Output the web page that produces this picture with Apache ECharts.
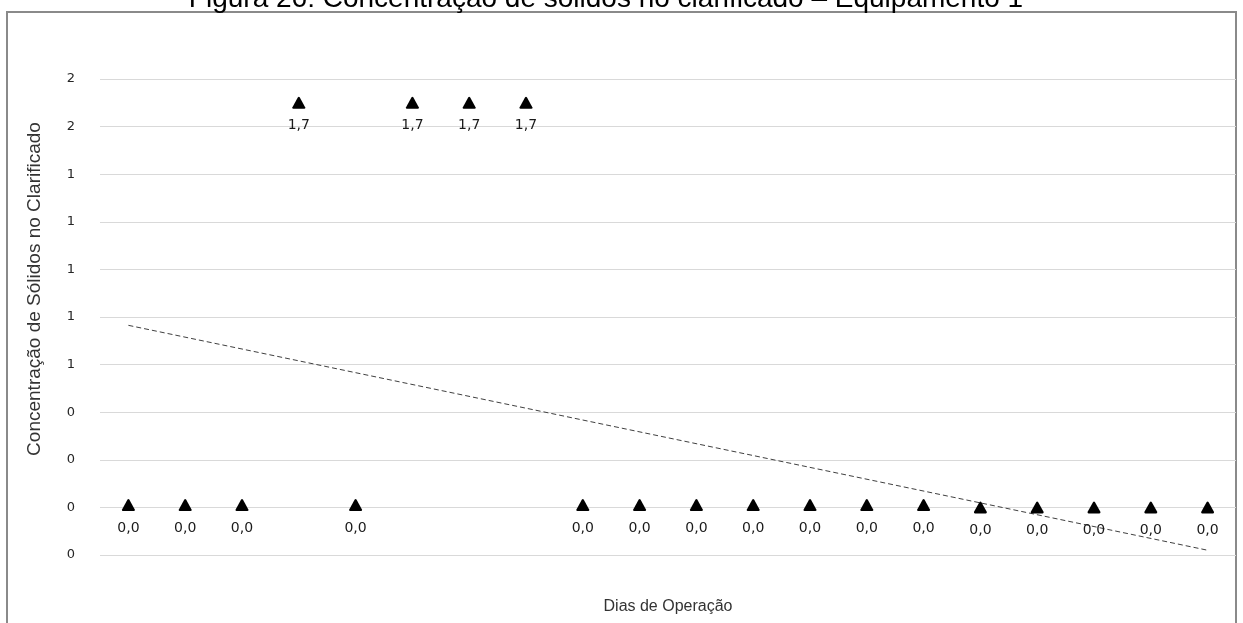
<!DOCTYPE html>
<html>
<head>
<meta charset="utf-8">
<script src="https://cdn.jsdelivr.net/npm/echarts@6/dist/echarts.min.js"></script>
<style>
  html, body { margin: 0; padding: 0; background: #ffffff; }
  #chart { width: 1243px; height: 623px; }
</style>
</head>
<body>
<div id="chart"></div>
<script>
// Operating days (category axis, labels hidden)
const days = ['1','2','3','4','5','6','7','8','9','10','11','12','13','14','15','16','17','18','19','20'];
// Solids concentration in the clarified liquid, one value per day
const concentration = [0.01, 0.01, 0.01, 1.7, 0.01, 1.7, 1.7, 1.7, 0.01, 0.01, 0.01, 0.01, 0.01, 0.01, 0.01, 0.0, 0.0, 0.0, 0.0, 0.0];
// Linear trend line: value at the first and at the last day
const trendEnds = [0.765, -0.18];
// Y tick labels, bottom to top (-0.2 .. 1.8 in steps of 0.2), shown rounded
const yTickLabels = ['0', '0', '0', '0', '1', '1', '1', '1', '1', '2', '2'];

const Y_MIN = -0.2, Y_MAX = 1.8, Y_STEP = 0.2;

const trendData = days.map((d, i) => i === 0 ? trendEnds[0] : (i === days.length - 1 ? trendEnds[1] : null));

const roundedTriangle = 'path://M5.2,0.6 Q6,-0.4 6.8,0.6 L11.7,9.6 Q12.2,11 10.8,11 L1.2,11 Q-0.2,11 0.3,9.6 Z';

const chart = echarts.init(document.getElementById('chart'));
chart.setOption({
  animation: false,
  backgroundColor: '#ffffff',
  graphic: [
    {
      type: 'rect',
      shape: { x: 7, y: 12, width: 1229, height: 640 },
      style: { fill: 'none', stroke: '#8a8a8a', lineWidth: 2 },
      silent: true, z: -1
    },
    {
      type: 'text',
      x: 606, y: -1,
      style: {
        text: 'Figura 26: Concentração de sólidos no clarificado – Equipamento 1',
        fontFamily: 'Liberation Sans, Arial, sans-serif',
        fontSize: 28,
        fill: '#000000',
        textAlign: 'center',
        textVerticalAlign: 'middle'
      },
      silent: true
    },
    {
      type: 'text',
      x: 35, y: 289,
      rotation: Math.PI / 2,
      style: {
        text: 'Concentração de Sólidos no Clarificado',
        fontFamily: 'Liberation Sans, Arial, sans-serif',
        fontSize: 19,
        fill: '#333333',
        textAlign: 'center',
        textVerticalAlign: 'middle'
      },
      silent: true
    }
  ],
  grid: { left: 100, right: 7, top: 79, bottom: 68 },
  xAxis: {
    type: 'category',
    data: days,
    boundaryGap: true,
    name: 'Dias de Operação',
    nameLocation: 'middle',
    nameGap: 44,
    nameTextStyle: { fontFamily: 'Liberation Sans, Arial, sans-serif', fontSize: 16, color: '#333333' },
    axisLine: { show: false },
    axisTick: { show: false },
    axisLabel: { show: false },
    splitLine: { show: false }
  },
  yAxis: {
    type: 'value',
    min: Y_MIN,
    max: Y_MAX,
    interval: Y_STEP,
    axisLine: { show: false },
    axisTick: { show: false },
    axisLabel: {
      margin: 25,
      fontFamily: 'DejaVu Sans, Verdana, sans-serif',
      fontSize: 13,
      color: '#262626',
      formatter: v => yTickLabels[Math.round((v - Y_MIN) / Y_STEP)]
    },
    splitLine: { lineStyle: { color: '#d9d9d9', width: 1 } }
  },
  series: [
    {
      type: 'line',
      data: concentration,
      lineStyle: { width: 0, opacity: 0 },
      symbol: roundedTriangle,
      symbolSize: [13, 12],
      itemStyle: { color: '#000000' },
      label: {
        show: true,
        position: 'bottom',
        distance: 10,
        fontFamily: 'DejaVu Sans, Verdana, sans-serif',
        fontSize: 14,
        color: '#1a1a1a',
        formatter: p => p.value.toFixed(1).replace('.', ',')
      },
      z: 3
    },
    {
      type: 'line',
      data: trendData,
      connectNulls: true,
      symbol: 'none',
      lineStyle: { color: '#404040', width: 1, type: [5, 3] },
      z: 2
    }
  ]
});
</script>
</body>
</html>
